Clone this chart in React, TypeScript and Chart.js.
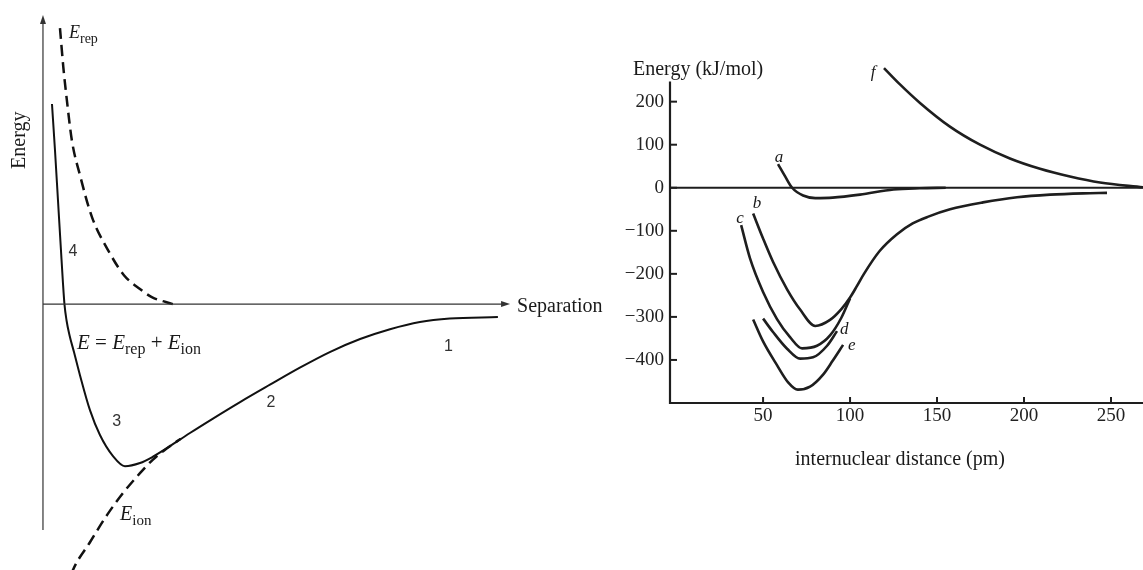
import { useEffect, useRef } from 'react';
import { Chart, registerables } from 'chart.js';

Chart.register(...registerables);

type Pt = [number, number];

// ---------- Left figure (arbitrary units: separation vs energy) ----------
const totalEnergy: Pt[] = [
  [1.93, 69.2], [2.57, 53.3], [3.21, 36.0], [3.85, 18.7], [4.28, 7.3], [4.6, 0],
  [5.03, -5.5], [5.67, -10.7], [6.64, -16.6], [7.92, -24.6], [10.06, -36.7],
  [12.2, -45.3], [14.99, -52.6], [17.55, -56.1], [20.77, -55.0], [23.55, -52.8],
  [26.55, -49.8], [31.47, -44.6], [36.4, -39.6], [42.2, -33.9], [48.6, -27.9],
  [55.0, -22.0], [61.4, -16.6], [67.9, -12.1], [74.3, -8.7], [80.7, -6.2],
  [87.1, -5.0], [97.4, -4.5],
];
const repulsiveEnergy: Pt[] = [
  [3.64, 95.5], [4.35, 82.1], [5.14, 70.2], [6.21, 56.4], [7.92, 44.6], [10.49, 30.1],
  [13.92, 18.7], [17.34, 10.0], [20.77, 5.2], [23.3, 2.4], [27.8, 0],
];
const ionicEnergy: Pt[] = [
  [4.92, -99.0], [6.42, -92.0], [10.06, -82.4], [13.7, -73.0], [17.13, -65.4],
  [20.77, -58.5], [23.55, -53.8], [26.55, -49.9], [29.5, -46.6],
];
const leftXRange: Pt = [-9.2, 121.4];
const leftYRange: Pt = [-92, 105.2];
const leftAxisX: Pt = [0, 100];
const leftAxisY: Pt = [-78.2, 100];

// ---------- Right figure (kJ/mol vs pm) ----------
const curveA: Pt[] = [
  [58.6, 55], [62.6, 27], [66.7, 0], [73, -18], [80, -24], [90, -23],
  [105.7, -16], [125, -4], [140, -1], [155, 0],
];
const curveBHead: Pt[] = [
  [44.3, -60], [50, -118], [55.7, -172], [63.8, -236], [71.3, -283], [80, -321],
  [88.5, -307], [95, -282],
];
const sharedTail: Pt[] = [
  [100, -255], [104, -228], [108, -200], [117, -147], [127, -108], [136, -83],
  [145, -67], [157.5, -50], [176.4, -34], [196, -22], [215, -16], [234, -13], [247.7, -12],
];
const curveC: Pt[] = [
  [37.4, -87], [42.5, -164], [50, -242], [58, -305], [65.5, -347], [72.4, -373],
  [81, -367], [88.5, -343], [95, -302], [100, -257],
];
const curveD: Pt[] = [
  [50, -304], [55.7, -335], [63.8, -374], [71.3, -397], [78.7, -394], [86.8, -367], [92.5, -333],
];
const curveE: Pt[] = [
  [44.3, -306], [50, -357], [58, -412], [64.4, -452], [70, -469], [77, -462],
  [84.5, -434], [90, -402], [96, -365],
];
const curveF: Pt[] = [
  [119.5, 278], [128.7, 240], [140.2, 197], [157.4, 142], [174.7, 100], [191.9, 68],
  [209.2, 44], [226.4, 26], [243.7, 12], [268.4, 1],
];
const zeroLine: Pt[] = [[-3.5, 0], [268.4, 0]];
const rightXRange: Pt = [-3.5, 268.4];
const rightYRange: Pt = [-500, 320];
const rightAxisY: Pt = [-500, 247];
const xTickValues = [50, 100, 150, 200, 250];
const yTickValues = [200, 100, 0, -100, -200, -300, -400];

// ---------- Text labels ----------
type Part = { t: string; sub?: boolean; it?: boolean };
type Label = {
  x: number; y: number; parts: Part[]; size: number;
  align?: 'left' | 'center'; sans?: boolean; rot?: number; italic?: boolean; color?: string;
};

const leftLabels: Label[] = [
  { x: 5.57, y: 94.1, parts: [{ t: 'E', it: true }, { t: 'rep', sub: true }], size: 18 },
  { x: 6.42, y: 18.5, parts: [{ t: '4' }], size: 16, sans: true, align: 'center', color: '#333' },
  {
    x: 7.28, y: -13.0, size: 21,
    parts: [
      { t: 'E', it: true }, { t: ' = ' }, { t: 'E', it: true }, { t: 'rep', sub: true },
      { t: ' + ' }, { t: 'E', it: true }, { t: 'ion', sub: true },
    ],
  },
  { x: 15.8, y: -40.5, parts: [{ t: '3' }], size: 16, sans: true, align: 'center', color: '#333' },
  { x: 48.8, y: -33.9, parts: [{ t: '2' }], size: 16, sans: true, align: 'center', color: '#333' },
  { x: 86.8, y: -14.5, parts: [{ t: '1' }], size: 16, sans: true, align: 'center', color: '#333' },
  { x: 16.5, y: -72.5, parts: [{ t: 'E', it: true }, { t: 'ion', sub: true }], size: 20 },
  { x: 101.5, y: -0.35, parts: [{ t: 'Separation' }], size: 20 },
  { x: -5.35, y: 56.7, parts: [{ t: 'Energy' }], size: 20, align: 'center', rot: -Math.PI / 2 },
];

const rightLabels: Label[] = [
  { x: -24.77, y: 278.3, parts: [{ t: 'Energy (kJ/mol)' }], size: 20 },
  { x: 128.7, y: -627.6, parts: [{ t: 'internuclear distance (pm)' }], size: 20, align: 'center' },
  { x: 59.2, y: 73.5, parts: [{ t: 'a' }], size: 17, italic: true, align: 'center' },
  { x: 46.5, y: -34, parts: [{ t: 'b' }], size: 17, italic: true, align: 'center' },
  { x: 36.8, y: -69, parts: [{ t: 'c' }], size: 17, italic: true, align: 'center' },
  { x: 96.6, y: -326, parts: [{ t: 'd' }], size: 17, italic: true, align: 'center' },
  { x: 101, y: -365, parts: [{ t: 'e' }], size: 17, italic: true, align: 'center' },
  { x: 113.2, y: 270, parts: [{ t: 'f' }], size: 17, italic: true, align: 'center' },
];

const SERIF = '"Liberation Serif", "Times New Roman", serif';
const SANS = '"Liberation Sans", Arial, sans-serif';

const toXY = (pts: Pt[]) => pts.map(([x, y]) => ({ x, y }));

function drawLabels(chart: any, labels: Label[]) {
  const ctx: CanvasRenderingContext2D = chart.ctx;
  const xs = chart.scales.x;
  const ys = chart.scales.y;
  for (const lab of labels) {
    const px = xs.getPixelForValue(lab.x);
    const py = ys.getPixelForValue(lab.y);
    const fam = lab.sans ? SANS : SERIF;
    const fontOf = (p: Part) =>
      `${p.it || lab.italic ? 'italic ' : ''}${p.sub ? Math.round(lab.size * 0.75) : lab.size}px ${fam}`;
    let total = 0;
    const widths = lab.parts.map((p) => {
      ctx.font = fontOf(p);
      const w = ctx.measureText(p.t).width;
      total += w;
      return w;
    });
    ctx.save();
    ctx.translate(px, py);
    if (lab.rot) ctx.rotate(lab.rot);
    ctx.fillStyle = lab.color || '#1a1a1a';
    ctx.textBaseline = 'alphabetic';
    ctx.textAlign = 'left';
    let cx = lab.align === 'center' ? -total / 2 : 0;
    const base = lab.size * 0.33;
    lab.parts.forEach((p, i) => {
      ctx.font = fontOf(p);
      ctx.fillText(p.t, cx, base + (p.sub ? lab.size * 0.25 : 0));
      cx += widths[i];
    });
    ctx.restore();
  }
}

function arrowHead(ctx: CanvasRenderingContext2D, x: number, y: number, dir: 'up' | 'right') {
  const len = 9;
  const half = 3;
  ctx.beginPath();
  if (dir === 'up') {
    ctx.moveTo(x, y);
    ctx.lineTo(x - half, y + len);
    ctx.lineTo(x + half, y + len);
  } else {
    ctx.moveTo(x, y);
    ctx.lineTo(x - len, y - half);
    ctx.lineTo(x - len, y + half);
  }
  ctx.closePath();
  ctx.fill();
}

const leftOverlay = {
  id: 'leftOverlay',
  afterDraw(chart: any) {
    const ctx: CanvasRenderingContext2D = chart.ctx;
    const xs = chart.scales.x;
    const ys = chart.scales.y;
    const x0 = xs.getPixelForValue(0);
    const y0 = ys.getPixelForValue(0);
    ctx.save();
    ctx.strokeStyle = '#333';
    ctx.fillStyle = '#333';
    ctx.lineWidth = 1.2;
    ctx.beginPath();
    ctx.moveTo(x0, ys.getPixelForValue(leftAxisY[0]));
    ctx.lineTo(x0, ys.getPixelForValue(leftAxisY[1]) + 6);
    ctx.stroke();
    arrowHead(ctx, x0, ys.getPixelForValue(leftAxisY[1]), 'up');
    ctx.beginPath();
    ctx.moveTo(xs.getPixelForValue(leftAxisX[0]), y0);
    ctx.lineTo(xs.getPixelForValue(leftAxisX[1]) - 6, y0);
    ctx.stroke();
    arrowHead(ctx, xs.getPixelForValue(leftAxisX[1]), y0, 'right');
    ctx.restore();
    drawLabels(chart, leftLabels);
  },
};

const rightOverlay = {
  id: 'rightOverlay',
  afterDraw(chart: any) {
    const ctx: CanvasRenderingContext2D = chart.ctx;
    const xs = chart.scales.x;
    const ys = chart.scales.y;
    const xl = xs.getPixelForValue(rightXRange[0]);
    const xr = xs.getPixelForValue(rightXRange[1]);
    const yb = ys.getPixelForValue(rightAxisY[0]);
    const yt = ys.getPixelForValue(rightAxisY[1]);
    ctx.save();
    ctx.strokeStyle = '#1e1e1e';
    ctx.lineWidth = 2.2;
    ctx.lineCap = 'butt';
    ctx.beginPath();
    ctx.moveTo(xl, yt);
    ctx.lineTo(xl, yb);
    ctx.lineTo(xr, yb);
    ctx.stroke();
    ctx.lineWidth = 2;
    for (const v of yTickValues) {
      const py = ys.getPixelForValue(v);
      ctx.beginPath();
      ctx.moveTo(xl, py);
      ctx.lineTo(xl + 7, py);
      ctx.stroke();
    }
    for (const v of xTickValues) {
      const px = xs.getPixelForValue(v);
      ctx.beginPath();
      ctx.moveTo(px, yb);
      ctx.lineTo(px, yb - 6);
      ctx.stroke();
    }
    ctx.restore();
    drawLabels(chart, rightLabels);
  },
};

const lineDs = (pts: Pt[], width: number, color: string, dash?: number[]) => ({
  data: toXY(pts),
  borderColor: color,
  borderWidth: width,
  borderDash: dash || [],
  pointRadius: 0,
  pointHitRadius: 0,
  fill: false,
  cubicInterpolationMode: 'monotone' as const,
  borderJoinStyle: 'round' as const,
});

export default function App() {
  const leftRef = useRef<HTMLCanvasElement>(null);
  const rightRef = useRef<HTMLCanvasElement>(null);

  useEffect(() => {
    const tickFont = { family: SERIF, size: 19 };
    const left = new Chart(leftRef.current as HTMLCanvasElement, {
      type: 'line',
      data: {
        datasets: [
          lineDs(totalEnergy, 2, '#111'),
          lineDs(repulsiveEnergy, 2.5, '#111', [11, 6]),
          lineDs(ionicEnergy, 2.5, '#111', [11, 6]),
        ] as any,
      },
      options: {
        animation: false,
        responsive: false,
        devicePixelRatio: 1,
        events: [],
        layout: { padding: 0 },
        scales: {
          x: { type: 'linear', min: leftXRange[0], max: leftXRange[1], display: false },
          y: { type: 'linear', min: leftYRange[0], max: leftYRange[1], display: false },
        },
        plugins: { legend: { display: false }, tooltip: { enabled: false } },
      },
      plugins: [leftOverlay],
    });

    const right = new Chart(rightRef.current as HTMLCanvasElement, {
      type: 'line',
      data: {
        datasets: [
          lineDs(zeroLine, 2, '#1e1e1e'),
          lineDs(curveA, 2.6, '#1e1e1e'),
          lineDs([...curveBHead, ...sharedTail], 2.6, '#1e1e1e'),
          lineDs(curveC, 2.6, '#1e1e1e'),
          lineDs(curveD, 2.6, '#1e1e1e'),
          lineDs(curveE, 2.6, '#1e1e1e'),
          lineDs(curveF, 2.6, '#1e1e1e'),
        ] as any,
      },
      options: {
        animation: false,
        responsive: false,
        devicePixelRatio: 1,
        events: [],
        layout: { padding: { top: 50, left: 0, right: 0, bottom: 0 } },
        scales: {
          x: {
            type: 'linear',
            min: rightXRange[0],
            max: rightXRange[1],
            grid: { display: false, drawTicks: false },
            border: { display: false },
            ticks: { font: tickFont, color: '#222', padding: 2, autoSkip: false, maxRotation: 0 },
            afterBuildTicks: (axis: any) => {
              axis.ticks = xTickValues.map((v) => ({ value: v }));
            },
            afterFit: (axis: any) => {
              axis.height = 77;
            },
          },
          y: {
            type: 'linear',
            min: rightYRange[0],
            max: rightYRange[1],
            grid: { display: false, drawTicks: false },
            border: { display: false },
            ticks: {
              font: tickFont,
              color: '#222',
              padding: 6,
              autoSkip: false,
              callback: (v: any) => (Number(v) < 0 ? '\u2212' + Math.abs(Number(v)) : String(v)),
            },
            afterBuildTicks: (axis: any) => {
              axis.ticks = yTickValues.map((v) => ({ value: v }));
            },
            afterFit: (axis: any) => {
              axis.width = 70;
            },
          },
        },
        plugins: { legend: { display: false }, tooltip: { enabled: false } },
      },
      plugins: [rightOverlay],
    });

    return () => {
      left.destroy();
      right.destroy();
    };
  }, []);

  return (
    <div
      style={{
        position: 'fixed', left: 0, top: 0, width: 1143, height: 570,
        background: '#fff', overflow: 'hidden',
      }}
    >
      <canvas
        ref={leftRef}
        width={610}
        height={570}
        style={{ position: 'absolute', left: 0, top: 0, width: 610, height: 570 }}
      />
      <canvas
        ref={rightRef}
        width={543}
        height={480}
        style={{ position: 'absolute', left: 600, top: 0, width: 543, height: 480 }}
      />
    </div>
  );
}
